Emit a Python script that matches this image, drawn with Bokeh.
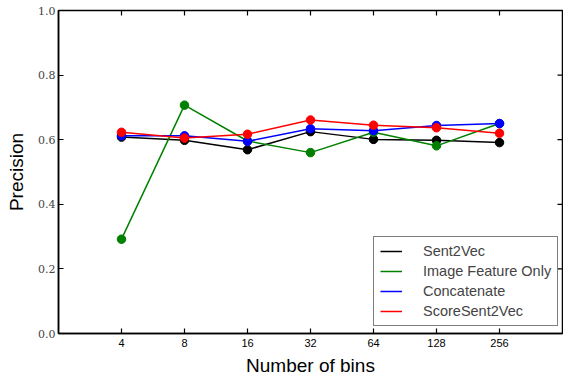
import math
from bokeh.plotting import figure
from bokeh.models import (Range1d, FixedTicker, Legend, LegendItem,
                          PrintfTickFormatter)
from bokeh.embed import file_html
from bokeh.resources import INLINE

bins = ["4", "8", "16", "32", "64", "128", "256"]
sent2vec = [0.608, 0.598, 0.569, 0.625, 0.601, 0.598, 0.591]
image_only = [0.292, 0.707, 0.596, 0.560, 0.623, 0.581, 0.650]
concatenate = [0.612, 0.612, 0.595, 0.634, 0.628, 0.644, 0.650]
score_sent2vec = [0.623, 0.605, 0.617, 0.661, 0.645, 0.637, 0.620]
y_ticks = [0.0, 0.2, 0.4, 0.6, 0.8, 1.0]

xpos = list(range(1, len(bins) + 1))
x_end = len(bins) + 1
y_end = 1.0

p = figure(width=563, height=383, output_backend="svg", toolbar_location=None,
           x_range=Range1d(0, x_end), y_range=Range1d(0, y_end),
           min_border_left=58, min_border_right=1, min_border_top=10,
           min_border_bottom=50)
p.xgrid.visible = False
p.ygrid.visible = False
p.outline_line_color = "black"
p.outline_line_width = 1.5
p.background_fill_color = "white"
p.border_fill_color = "white"

# mirrored tick marks on the top and right edges (matplotlib classic style)
p.ray(x=xpos, y=[y_end] * len(xpos), length=5, length_units="screen",
      angle=-math.pi / 2, line_color="black", line_width=1.2)
p.ray(x=[x_end] * len(y_ticks), y=y_ticks, length=5, length_units="screen",
      angle=math.pi, line_color="black", line_width=1.2)

series = [("Sent2Vec", sent2vec, "black"),
          ("Image Feature Only", image_only, "green"),
          ("Concatenate", concatenate, "blue"),
          ("ScoreSent2Vec", score_sent2vec, "red")]
items = []
for name, vals, col in series:
    r = p.line(xpos, vals, line_color=col, line_width=1.5)
    p.scatter(xpos, vals, size=8.5, fill_color=col, line_color=col)
    items.append(LegendItem(label=name, renderers=[r]))

xax = p.xaxis[0]
xax.ticker = FixedTicker(ticks=xpos)
xax.major_label_overrides = {x: b for x, b in zip(xpos, bins)}
xax.axis_label = "Number of bins"
yax = p.yaxis[0]
yax.ticker = FixedTicker(ticks=y_ticks)
yax.formatter = PrintfTickFormatter(format="%.1f")
yax.axis_label = "Precision"

for ax in (xax, yax):
    ax.major_tick_in = 5
    ax.major_tick_out = 0
    ax.minor_tick_in = 0
    ax.minor_tick_out = 0
    ax.axis_line_width = 1.5
    ax.major_tick_line_width = 1.2
    ax.axis_label_text_font = "Liberation Sans"
    ax.axis_label_text_font_style = "normal"
    ax.axis_label_text_font_size = "19px"
    ax.axis_label_text_color = "black"

xax.major_label_text_font = "Liberation Sans"
xax.major_label_text_font_size = "11px"
xax.major_label_text_color = "black"
xax.major_label_standoff = 5
xax.axis_label_standoff = 5
yax.major_label_text_font = "DejaVu Serif"
yax.major_label_text_font_size = "11px"
yax.major_label_text_color = "#444444"
yax.major_label_standoff = 3
yax.axis_label_standoff = 8

legend = Legend(items=items, location=(315, 7))
legend.label_text_font = "Liberation Sans"
legend.label_text_font_size = "14.5px"
legend.border_line_color = "black"
legend.border_line_width = 1.2
legend.background_fill_alpha = 1
legend.padding = 6
legend.spacing = 4
legend.glyph_width = 22
legend.glyph_height = 16
legend.label_height = 16
legend.label_standoff = 21
legend.margin = 0
p.add_layout(legend, "center")

open("out.html", "w").write(file_html(p, INLINE))
